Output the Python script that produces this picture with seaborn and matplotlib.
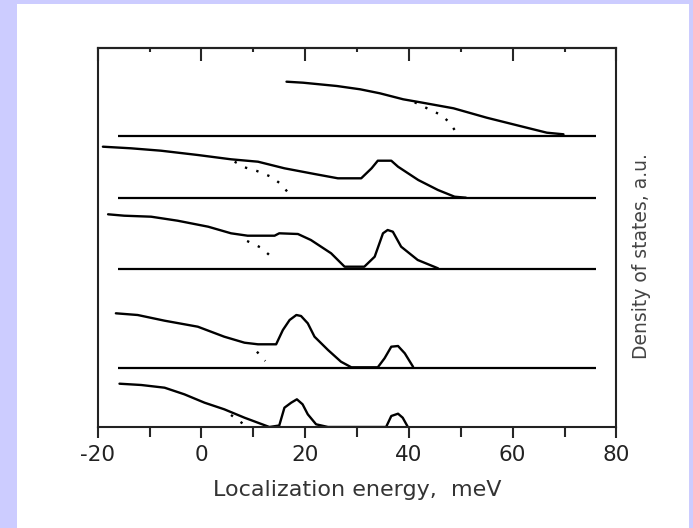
import numpy as np
import seaborn as sns
from matplotlib import pyplot as plt
from matplotlib.patches import Rectangle

# energies in meV, heights in arbitrary units above each baseline
e1 = [16.4, 19.6, 26.1, 30.6, 34.4, 38.9, 42.2, 48.6, 55.0, 61.4, 66.6, 69.8]
d1 = [54, 53, 49.7, 46.4, 42.4, 36.4, 33.4, 27.4, 18, 9.7, 3, 1.4]
e1_dot = [41.1, 43.5, 46.2, 47.8, 49.3]
d1_dot = [33.4, 27.4, 20.7, 13.4, 2]

e2 = [-19.0, -13.6, -7.8, -0.7, 5.7, 10.9, 16.0, 21.8, 26.3, 30.8, 32.8, 34.0,
      36.6, 37.9, 41.8, 45.6, 48.8, 51.0]
d2 = [51.6, 50, 47.6, 43.3, 39, 36.6, 30, 24.3, 20, 20, 30, 37.6,
      37.6, 31.6, 18.3, 8.3, 1.6, 0.6]
e2_dot = [6.4, 8.3, 10.7, 13.4, 15.4, 16.8]
d2_dot = [36.6, 31, 27.3, 21.6, 14, 5]

e3 = [-18.0, -14.9, -9.7, -4.6, 1.3, 5.7, 8.9, 14.1, 15.0, 18.6, 21.1, 25.0,
      27.6, 31.4, 33.4, 35.0, 35.9, 36.9, 38.5, 41.7, 45.6]
d3 = [55, 53.6, 52.6, 48.6, 42.6, 36, 33.6, 33.6, 36, 35.3, 29.3, 16,
      2.6, 2.6, 12.6, 36, 39.3, 37.6, 22.6, 9.3, 1]
e3_dot = [8.8, 11.5, 13.3]
d3_dot = [28.3, 21.6, 13.3]

e4 = [-16.5, -12.3, -7.1, -0.7, 4.4, 8.3, 10.9, 14.4, 15.7, 17.0, 18.3, 19.2,
      20.5, 21.8, 24.4, 26.9, 28.9, 34.0, 35.3, 36.6, 37.9, 39.2, 40.8]
d4 = [55, 53.3, 47.6, 41.6, 31.6, 25.6, 24, 24, 38.3, 48.3, 53.3, 52.3,
      45, 31.6, 18.3, 6.6, 1.0, 1.0, 10, 21.6, 22.3, 15, 1.5]
e4_dot = [10.7, 12.3]
d4_dot = [16.6, 7.3]

e5 = [-15.8, -11.6, -7.1, -3.3, 0.6, 4.4, 8.3, 13.1, 15.0, 16.0, 17.3, 18.4,
      19.5, 20.5, 22.1, 24.4, 35.6, 36.6, 37.9, 38.8, 39.8]
d5 = [43.3, 42, 39.3, 32.7, 24.3, 17.7, 9.3, 0, 1.5, 19.3, 24.3, 27.7,
      22.7, 12.7, 2.7, 0, 0, 11, 13.3, 9.3, 0]
e5_dot = [5.7, 8.0]
d5_dot = [12.0, 3.3]

offsets = [291.3, 228.7, 157.7, 58.7, 0]
baseline_range = (-16.1, 76.1)

curves = [(e1, d1, e1_dot, d1_dot), (e2, d2, e2_dot, d2_dot),
          (e3, d3, e3_dot, d3_dot), (e4, d4, e4_dot, d4_dot),
          (e5, d5, e5_dot, d5_dot)]

sns.set_style("ticks")
plt.rcParams['font.family'] = ['DejaVu Sans']
plt.rcParams['axes.unicode_minus'] = False

fig = plt.figure(figsize=(6.93, 5.28), dpi=100, facecolor="#ccccff")
fig.patches.append(Rectangle((17 / 693, 0), (689 - 17) / 693, 524 / 528,
                             transform=fig.transFigure, facecolor="white",
                             edgecolor="none", zorder=-10))
ax = fig.add_axes([97.7 / 693, 101 / 528, (616.4 - 97.7) / 693, 379 / 528])
ax.set_zorder(5)

for (e, d, ed, dd), off in zip(curves, offsets):
    sns.lineplot(x=e, y=np.array(d) + off, ax=ax, color="black", lw=1.7,
                 sort=False, estimator=None)
    ax.plot(ed, np.array(dd) + off, color="black", lw=1.7,
            linestyle=(0, (1, 4)))
    if off > 0:
        ax.hlines(off, *baseline_range, color="black", lw=1.6)

ax.set_xlim(-20, 80)
ax.set_ylim(0, 379)
ax.set_xticks([-20, 0, 20, 40, 60, 80])
ax.set_xticks([-10, 10, 30, 50, 70], minor=True)
ax.set_yticks([])
for s in ax.spines.values():
    s.set_linewidth(1.5)
    s.set_color("#222222")

ax.tick_params(axis="x", which="both", bottom=True, top=False, direction="out",
               width=1.5, length=8, labelsize=15.5, labelcolor="#222222", pad=5)
ax.tick_params(axis="x", which="minor", length=7)

# inward ticks along the top edge
top = ax.secondary_xaxis("top")
top.set_xticks([-20, 0, 20, 40, 60, 80])
top.set_xticks([-10, 10, 30, 50, 70], minor=True)
top.tick_params(which="both", direction="in", width=1.5, labeltop=False)
top.tick_params(which="major", length=9.5)
top.tick_params(which="minor", length=3)
top.spines["top"].set_linewidth(1.5)

ax.set_xlabel("Localization energy,  meV", fontsize=16, color="#333333",
              labelpad=11)
ax.set_ylabel("Density of states, a.u.", fontsize=13.5, color="#444444")
ax.yaxis.set_label_position("right")
ax.yaxis.set_label_coords(1.03, 0.45)

plt.savefig("out.png", dpi=100, facecolor=fig.get_facecolor())
